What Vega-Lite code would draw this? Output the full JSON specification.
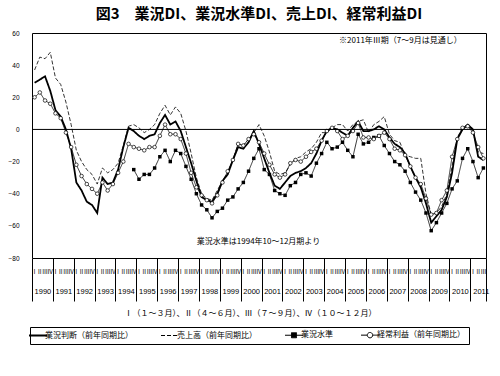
{
  "$schema": "https://vega.github.io/schema/vega-lite/v6.json",
  "width": 454,
  "height": 225,
  "autosize": {"type": "none"},
  "padding": {"left": 32, "top": 33, "right": 14, "bottom": 118},
  "background": "white",
  "title": {"text": "図3　業況DI、業況水準DI、売上DI、経常利益DI", "font": "Noto Sans CJK JP", "fontSize": 15, "fontWeight": "bold", "color": "black", "anchor": "middle", "frame": "group", "offset": 8},
  "config": {
    "view": {"stroke": "black", "strokeWidth": 1},
    "font": "Noto Sans CJK JP",
    "axisX": {
      "labelExpr": "datum.value > 86 ? '' : '' + (1990 + floor((datum.value + 0.5) / 4))",
      "labelOffset": 10.436, "labelPadding": -14, "labelFont": "Liberation Sans", "labelFontSize": 7.5, "labelColor": "black",
      "labelBound": false, "labelAngle": 0,
      "ticks": true, "tickSize": 43, "tickColor": "black", "tickWidth": 1, "domain": false, "grid": false,
      "titleFont": "Noto Sans CJK JP", "titleFontSize": 8, "titleFontWeight": "normal", "titleColor": "black", "titlePadding": 8, "titleX": 218},
    "axisY": {"tickCount": 7, "ticks": false, "domain": false, "grid": false, "labelFont": "Liberation Sans", "labelFontSize": 6.5, "labelColor": "black", "labelPadding": 13, "labelFlush": false, "labelOverlap": false}
  },
  "data": {"values": [
    {"t":0,"業況判断（前年同期比）":29,"売上高（前年同期比）":37,"経常利益（前年同期比）":20},
    {"t":1,"業況判断（前年同期比）":31,"売上高（前年同期比）":45,"経常利益（前年同期比）":23},
    {"t":2,"業況判断（前年同期比）":33,"売上高（前年同期比）":44,"経常利益（前年同期比）":18},
    {"t":3,"業況判断（前年同期比）":24,"売上高（前年同期比）":48,"経常利益（前年同期比）":16},
    {"t":4,"業況判断（前年同期比）":12,"売上高（前年同期比）":32,"経常利益（前年同期比）":10},
    {"t":5,"業況判断（前年同期比）":8,"売上高（前年同期比）":28,"経常利益（前年同期比）":7},
    {"t":6,"業況判断（前年同期比）":0,"売上高（前年同期比）":17,"経常利益（前年同期比）":-2},
    {"t":7,"業況判断（前年同期比）":-12,"売上高（前年同期比）":3,"経常利益（前年同期比）":-11},
    {"t":8,"業況判断（前年同期比）":-33,"売上高（前年同期比）":-13,"経常利益（前年同期比）":-22},
    {"t":9,"業況判断（前年同期比）":-38,"売上高（前年同期比）":-20,"経常利益（前年同期比）":-29},
    {"t":10,"業況判断（前年同期比）":-45,"売上高（前年同期比）":-25,"経常利益（前年同期比）":-34},
    {"t":11,"業況判断（前年同期比）":-47,"売上高（前年同期比）":-28,"経常利益（前年同期比）":-37},
    {"t":12,"業況判断（前年同期比）":-52,"売上高（前年同期比）":-34,"経常利益（前年同期比）":-40},
    {"t":13,"業況判断（前年同期比）":-30,"売上高（前年同期比）":-24,"経常利益（前年同期比）":-33},
    {"t":14,"業況判断（前年同期比）":-34,"売上高（前年同期比）":-27,"経常利益（前年同期比）":-38},
    {"t":15,"業況判断（前年同期比）":-33,"売上高（前年同期比）":-25,"経常利益（前年同期比）":-34},
    {"t":16,"業況判断（前年同期比）":-25,"売上高（前年同期比）":-21,"経常利益（前年同期比）":-27},
    {"t":17,"業況判断（前年同期比）":-11,"売上高（前年同期比）":-10,"経常利益（前年同期比）":-20},
    {"t":18,"業況判断（前年同期比）":1,"売上高（前年同期比）":2,"経常利益（前年同期比）":-9},
    {"t":19,"業況判断（前年同期比）":-1,"売上高（前年同期比）":3,"業況水準":-25,"経常利益（前年同期比）":-11},
    {"t":20,"業況判断（前年同期比）":-4,"売上高（前年同期比）":1,"業況水準":-31,"経常利益（前年同期比）":-12},
    {"t":21,"業況判断（前年同期比）":-6,"売上高（前年同期比）":-2,"業況水準":-28,"経常利益（前年同期比）":-13},
    {"t":22,"業況判断（前年同期比）":-4,"売上高（前年同期比）":0,"業況水準":-28,"経常利益（前年同期比）":-11},
    {"t":23,"業況判断（前年同期比）":-3,"売上高（前年同期比）":3,"業況水準":-24,"経常利益（前年同期比）":-11},
    {"t":24,"業況判断（前年同期比）":4,"売上高（前年同期比）":10,"業況水準":-17,"経常利益（前年同期比）":-4},
    {"t":25,"業況判断（前年同期比）":9,"売上高（前年同期比）":15,"業況水準":-13,"経常利益（前年同期比）":3},
    {"t":26,"業況判断（前年同期比）":3,"売上高（前年同期比）":9,"業況水準":-20,"経常利益（前年同期比）":-3},
    {"t":27,"業況判断（前年同期比）":5,"売上高（前年同期比）":14,"業況水準":-13,"経常利益（前年同期比）":-3},
    {"t":28,"業況判断（前年同期比）":-1,"売上高（前年同期比）":10,"業況水準":-15,"経常利益（前年同期比）":-6},
    {"t":29,"業況判断（前年同期比）":-11,"売上高（前年同期比）":-1,"業況水準":-23,"経常利益（前年同期比）":-15},
    {"t":30,"業況判断（前年同期比）":-21,"売上高（前年同期比）":-15,"業況水準":-31,"経常利益（前年同期比）":-27},
    {"t":31,"業況判断（前年同期比）":-32,"売上高（前年同期比）":-30,"業況水準":-40,"経常利益（前年同期比）":-36},
    {"t":32,"業況判断（前年同期比）":-42,"売上高（前年同期比）":-40,"業況水準":-47,"経常利益（前年同期比）":-41},
    {"t":33,"業況判断（前年同期比）":-44,"売上高（前年同期比）":-43,"業況水準":-50,"経常利益（前年同期比）":-44},
    {"t":34,"業況判断（前年同期比）":-45,"売上高（前年同期比）":-44,"業況水準":-55,"経常利益（前年同期比）":-46},
    {"t":35,"業況判断（前年同期比）":-40,"売上高（前年同期比）":-38,"業況水準":-51,"経常利益（前年同期比）":-41},
    {"t":36,"業況判断（前年同期比）":-32,"売上高（前年同期比）":-32,"業況水準":-49,"経常利益（前年同期比）":-33},
    {"t":37,"業況判断（前年同期比）":-28,"売上高（前年同期比）":-27,"業況水準":-44,"経常利益（前年同期比）":-26},
    {"t":38,"業況判断（前年同期比）":-19,"売上高（前年同期比）":-19,"業況水準":-42,"経常利益（前年同期比）":-19},
    {"t":39,"業況判断（前年同期比）":-11,"売上高（前年同期比）":-9,"業況水準":-37,"経常利益（前年同期比）":-9},
    {"t":40,"業況判断（前年同期比）":-12,"売上高（前年同期比）":-10,"業況水準":-33,"経常利益（前年同期比）":-10},
    {"t":41,"業況判断（前年同期比）":-8,"売上高（前年同期比）":-6,"業況水準":-26,"経常利益（前年同期比）":-6},
    {"t":42,"業況判断（前年同期比）":-1,"売上高（前年同期比）":-2,"業況水準":-18,"経常利益（前年同期比）":-3},
    {"t":43,"業況判断（前年同期比）":-9,"売上高（前年同期比）":3,"業況水準":-12,"経常利益（前年同期比）":-8},
    {"t":44,"業況判断（前年同期比）":-18,"売上高（前年同期比）":-4,"業況水準":-25,"経常利益（前年同期比）":-15},
    {"t":45,"業況判断（前年同期比）":-27,"売上高（前年同期比）":-14,"業況水準":-28,"経常利益（前年同期比）":-22},
    {"t":46,"業況判断（前年同期比）":-35,"売上高（前年同期比）":-26,"業況水準":-38,"経常利益（前年同期比）":-28},
    {"t":47,"業況判断（前年同期比）":-37,"売上高（前年同期比）":-28,"業況水準":-40,"経常利益（前年同期比）":-30},
    {"t":48,"業況判断（前年同期比）":-33,"売上高（前年同期比）":-27,"業況水準":-41,"経常利益（前年同期比）":-28},
    {"t":49,"業況判断（前年同期比）":-29,"売上高（前年同期比）":-22,"業況水準":-35,"経常利益（前年同期比）":-21},
    {"t":50,"業況判断（前年同期比）":-27,"売上高（前年同期比）":-18,"業況水準":-33,"経常利益（前年同期比）":-19},
    {"t":51,"業況判断（前年同期比）":-26,"売上高（前年同期比）":-17,"業況水準":-28,"経常利益（前年同期比）":-20},
    {"t":52,"業況判断（前年同期比）":-24,"売上高（前年同期比）":-14,"業況水準":-27,"経常利益（前年同期比）":-17},
    {"t":53,"業況判断（前年同期比）":-21,"売上高（前年同期比）":-12,"業況水準":-29,"経常利益（前年同期比）":-14},
    {"t":54,"業況判断（前年同期比）":-15,"売上高（前年同期比）":-8,"業況水準":-21,"経常利益（前年同期比）":-12},
    {"t":55,"業況判断（前年同期比）":-7,"売上高（前年同期比）":-2,"業況水準":-15,"経常利益（前年同期比）":-7},
    {"t":56,"業況判断（前年同期比）":-1,"売上高（前年同期比）":-2,"業況水準":-8,"経常利益（前年同期比）":-1},
    {"t":57,"業況判断（前年同期比）":1,"売上高（前年同期比）":1,"業況水準":-12,"経常利益（前年同期比）":1},
    {"t":58,"業況判断（前年同期比）":0,"売上高（前年同期比）":3,"業況水準":-11,"経常利益（前年同期比）":-1},
    {"t":59,"業況判断（前年同期比）":-2,"売上高（前年同期比）":3,"業況水準":-8,"経常利益（前年同期比）":-6},
    {"t":60,"業況判断（前年同期比）":-4,"売上高（前年同期比）":-1,"業況水準":-13,"経常利益（前年同期比）":-4},
    {"t":61,"業況判断（前年同期比）":1,"売上高（前年同期比）":3,"業況水準":-17,"経常利益（前年同期比）":-1},
    {"t":62,"業況判断（前年同期比）":5,"売上高（前年同期比）":5,"業況水準":-3,"経常利益（前年同期比）":4},
    {"t":63,"業況判断（前年同期比）":-1,"売上高（前年同期比）":6,"業況水準":-9,"経常利益（前年同期比）":-5},
    {"t":64,"業況判断（前年同期比）":-1,"売上高（前年同期比）":-2,"業況水準":-8,"経常利益（前年同期比）":-5},
    {"t":65,"業況判断（前年同期比）":0,"売上高（前年同期比）":3,"業況水準":-5,"経常利益（前年同期比）":-6},
    {"t":66,"業況判断（前年同期比）":2,"売上高（前年同期比）":5,"業況水準":-4,"経常利益（前年同期比）":-4},
    {"t":67,"業況判断（前年同期比）":0,"売上高（前年同期比）":8,"業況水準":-10,"経常利益（前年同期比）":-2},
    {"t":68,"業況判断（前年同期比）":-5,"売上高（前年同期比）":-3,"業況水準":-15,"経常利益（前年同期比）":-6},
    {"t":69,"業況判断（前年同期比）":-9,"売上高（前年同期比）":-7,"業況水準":-20,"経常利益（前年同期比）":-12},
    {"t":70,"業況判断（前年同期比）":-11,"売上高（前年同期比）":-8,"業況水準":-22,"経常利益（前年同期比）":-13},
    {"t":71,"業況判断（前年同期比）":-15,"売上高（前年同期比）":-16,"業況水準":-26,"経常利益（前年同期比）":-16},
    {"t":72,"業況判断（前年同期比）":-23,"売上高（前年同期比）":-17,"業況水準":-33,"経常利益（前年同期比）":-23},
    {"t":73,"業況判断（前年同期比）":-30,"売上高（前年同期比）":-18,"業況水準":-39,"経常利益（前年同期比）":-30},
    {"t":74,"業況判断（前年同期比）":-36,"売上高（前年同期比）":-18,"業況水準":-44,"経常利益（前年同期比）":-34},
    {"t":75,"業況判断（前年同期比）":-46,"売上高（前年同期比）":-40,"業況水準":-52,"経常利益（前年同期比）":-43},
    {"t":76,"業況判断（前年同期比）":-58,"売上高（前年同期比）":-53,"業況水準":-63,"経常利益（前年同期比）":-53},
    {"t":77,"業況判断（前年同期比）":-54,"売上高（前年同期比）":-52,"業況水準":-58,"経常利益（前年同期比）":-52},
    {"t":78,"業況判断（前年同期比）":-50,"売上高（前年同期比）":-48,"業況水準":-52,"経常利益（前年同期比）":-44},
    {"t":79,"業況判断（前年同期比）":-42,"売上高（前年同期比）":-40,"業況水準":-46,"経常利益（前年同期比）":-38},
    {"t":80,"業況判断（前年同期比）":-27,"売上高（前年同期比）":-23,"業況水準":-37,"経常利益（前年同期比）":-17},
    {"t":81,"業況判断（前年同期比）":-6,"売上高（前年同期比）":-5,"業況水準":-32,"経常利益（前年同期比）":-6},
    {"t":82,"業況判断（前年同期比）":0,"売上高（前年同期比）":1,"業況水準":-18,"経常利益（前年同期比）":1},
    {"t":83,"業況判断（前年同期比）":3,"売上高（前年同期比）":3,"業況水準":-12,"経常利益（前年同期比）":2},
    {"t":84,"業況判断（前年同期比）":0,"売上高（前年同期比）":-2,"業況水準":-20,"経常利益（前年同期比）":-2},
    {"t":85,"業況判断（前年同期比）":-17,"売上高（前年同期比）":-14,"業況水準":-30,"経常利益（前年同期比）":-11},
    {"t":86,"業況判断（前年同期比）":-19,"売上高（前年同期比）":-15,"業況水準":-24,"経常利益（前年同期比）":-18}
  ]},
  "layer": [
    {
      "transform": [{"fold": ["業況判断（前年同期比）", "売上高（前年同期比）", "業況水準", "経常利益（前年同期比）"], "as": ["series", "v"]}],
      "mark": {"type": "line", "color": "black", "strokeJoin": "miter"},
      "encoding": {
        "x": {"field": "t", "type": "quantitative", "scale": {"domain": [-0.5, 86.5], "nice": false, "zero": false}, "title": "Ⅰ（１～３月）、Ⅱ（４～６月）、Ⅲ（７～９月）、Ⅳ（１０～１２月）",
          "axis": {"values": [-0.5, 3.5, 7.5, 11.5, 15.5, 19.5, 23.5, 27.5, 31.5, 35.5, 39.5, 43.5, 47.5, 51.5, 55.5, 59.5, 63.5, 67.5, 71.5, 75.5, 79.5, 83.5, 86.5], "tickCount": 100, "labelOverlap": false, "labelFlush": false}},
        "y": {"field": "v", "type": "quantitative", "scale": {"domain": [-80, 60], "nice": false, "zero": false}, "title": null},
        "strokeDash": {"field": "series", "type": "nominal",
          "scale": {"domain": ["業況判断（前年同期比）", "売上高（前年同期比）", "業況水準", "経常利益（前年同期比）"], "range": [[1, 0], [4, 2], [1, 0], [1, 0]]},
          "legend": {"orient": "none", "legendX": -2, "legendY": 294, "direction": "horizontal", "columns": 4, "title": null,
            "symbolType": "stroke", "symbolSize": 324, "symbolStrokeColor": "black", "symbolStrokeWidth": 1,
            "labelFont": "Noto Sans CJK JP", "labelFontSize": 8, "labelColor": "black", "labelOffset": 3, "labelLimit": 200,
            "columnPadding": 26, "padding": 4, "strokeColor": "black",
            "encode": {
              "legend": {"update": {"stroke": {"value": "black"}, "strokeWidth": {"value": 1}}},
              "symbols": {"update": {
              "shape": {"signal": "datum.value === '業況水準' ? 'M-1,0H1M-0.28,-0.28H0.28V0.28H-0.28Z' : datum.value === '経常利益（前年同期比）' ? 'M-1,0H-0.3M0.3,0H1M0.3,0A0.3,0.3,0,1,1,-0.3,0A0.3,0.3,0,1,1,0.3,0Z' : 'stroke'"},
              "stroke": {"value": "black"},
              "opacity": {"value": 1},
              "fill": {"signal": "datum.value === '業況水準' ? 'black' : datum.value === '経常利益（前年同期比）' ? 'white' : 'transparent'"},
              "strokeWidth": {"signal": "datum.value === '業況判断（前年同期比）' ? 1.8 : 1"}
            }}}}},
        "strokeWidth": {"condition": {"test": "datum.series === '業況判断（前年同期比）'", "value": 1.8}, "value": 0.8}
      }
    },
    {
      "transform": [{"fold": ["業況水準"], "as": ["series", "v"]}],
      "mark": {"type": "square", "color": "black", "size": 12, "filled": true, "opacity": 1},
      "encoding": {
        "x": {"field": "t", "type": "quantitative", "scale": {"domain": [-0.5, 86.5], "nice": false, "zero": false}, "title": "Ⅰ（１～３月）、Ⅱ（４～６月）、Ⅲ（７～９月）、Ⅳ（１０～１２月）",
          "axis": {"values": [-0.5, 3.5, 7.5, 11.5, 15.5, 19.5, 23.5, 27.5, 31.5, 35.5, 39.5, 43.5, 47.5, 51.5, 55.5, 59.5, 63.5, 67.5, 71.5, 75.5, 79.5, 83.5, 86.5], "tickCount": 100, "labelOverlap": false, "labelFlush": false}},
        "y": {"field": "v", "type": "quantitative", "scale": {"domain": [-80, 60], "nice": false, "zero": false}, "title": null}
      }
    },
    {
      "transform": [{"fold": ["経常利益（前年同期比）"], "as": ["series", "v"]}],
      "mark": {"type": "point", "shape": "circle", "size": 13, "filled": true, "fill": "white", "stroke": "black", "strokeWidth": 0.7, "opacity": 1},
      "encoding": {
        "x": {"field": "t", "type": "quantitative", "scale": {"domain": [-0.5, 86.5], "nice": false, "zero": false}, "title": "Ⅰ（１～３月）、Ⅱ（４～６月）、Ⅲ（７～９月）、Ⅳ（１０～１２月）",
          "axis": {"values": [-0.5, 3.5, 7.5, 11.5, 15.5, 19.5, 23.5, 27.5, 31.5, 35.5, 39.5, 43.5, 47.5, 51.5, 55.5, 59.5, 63.5, 67.5, 71.5, 75.5, 79.5, 83.5, 86.5], "tickCount": 100, "labelOverlap": false, "labelFlush": false}},
        "y": {"field": "v", "type": "quantitative", "scale": {"domain": [-80, 60], "nice": false, "zero": false}, "title": null}
      }
    },
    {
      "data": {"values": [{"ref": 0}]},
      "mark": {"type": "rule", "color": "black", "strokeWidth": 1},
      "encoding": {"y": {"field": "ref", "type": "quantitative", "scale": {"domain": [-80, 60], "nice": false, "zero": false}, "title": null}}
    },
    {
      "data": {"values": [
        {"t":0,"q":"Ⅰ"},{"t":1,"q":"Ⅱ"},{"t":2,"q":"Ⅲ"},{"t":3,"q":"Ⅳ"},
        {"t":4,"q":"Ⅰ"},{"t":5,"q":"Ⅱ"},{"t":6,"q":"Ⅲ"},{"t":7,"q":"Ⅳ"},
        {"t":8,"q":"Ⅰ"},{"t":9,"q":"Ⅱ"},{"t":10,"q":"Ⅲ"},{"t":11,"q":"Ⅳ"},
        {"t":12,"q":"Ⅰ"},{"t":13,"q":"Ⅱ"},{"t":14,"q":"Ⅲ"},{"t":15,"q":"Ⅳ"},
        {"t":16,"q":"Ⅰ"},{"t":17,"q":"Ⅱ"},{"t":18,"q":"Ⅲ"},{"t":19,"q":"Ⅳ"},
        {"t":20,"q":"Ⅰ"},{"t":21,"q":"Ⅱ"},{"t":22,"q":"Ⅲ"},{"t":23,"q":"Ⅳ"},
        {"t":24,"q":"Ⅰ"},{"t":25,"q":"Ⅱ"},{"t":26,"q":"Ⅲ"},{"t":27,"q":"Ⅳ"},
        {"t":28,"q":"Ⅰ"},{"t":29,"q":"Ⅱ"},{"t":30,"q":"Ⅲ"},{"t":31,"q":"Ⅳ"},
        {"t":32,"q":"Ⅰ"},{"t":33,"q":"Ⅱ"},{"t":34,"q":"Ⅲ"},{"t":35,"q":"Ⅳ"},
        {"t":36,"q":"Ⅰ"},{"t":37,"q":"Ⅱ"},{"t":38,"q":"Ⅲ"},{"t":39,"q":"Ⅳ"},
        {"t":40,"q":"Ⅰ"},{"t":41,"q":"Ⅱ"},{"t":42,"q":"Ⅲ"},{"t":43,"q":"Ⅳ"},
        {"t":44,"q":"Ⅰ"},{"t":45,"q":"Ⅱ"},{"t":46,"q":"Ⅲ"},{"t":47,"q":"Ⅳ"},
        {"t":48,"q":"Ⅰ"},{"t":49,"q":"Ⅱ"},{"t":50,"q":"Ⅲ"},{"t":51,"q":"Ⅳ"},
        {"t":52,"q":"Ⅰ"},{"t":53,"q":"Ⅱ"},{"t":54,"q":"Ⅲ"},{"t":55,"q":"Ⅳ"},
        {"t":56,"q":"Ⅰ"},{"t":57,"q":"Ⅱ"},{"t":58,"q":"Ⅲ"},{"t":59,"q":"Ⅳ"},
        {"t":60,"q":"Ⅰ"},{"t":61,"q":"Ⅱ"},{"t":62,"q":"Ⅲ"},{"t":63,"q":"Ⅳ"},
        {"t":64,"q":"Ⅰ"},{"t":65,"q":"Ⅱ"},{"t":66,"q":"Ⅲ"},{"t":67,"q":"Ⅳ"},
        {"t":68,"q":"Ⅰ"},{"t":69,"q":"Ⅱ"},{"t":70,"q":"Ⅲ"},{"t":71,"q":"Ⅳ"},
        {"t":72,"q":"Ⅰ"},{"t":73,"q":"Ⅱ"},{"t":74,"q":"Ⅲ"},{"t":75,"q":"Ⅳ"},
        {"t":76,"q":"Ⅰ"},{"t":77,"q":"Ⅱ"},{"t":78,"q":"Ⅲ"},{"t":79,"q":"Ⅳ"},
        {"t":80,"q":"Ⅰ"},{"t":81,"q":"Ⅱ"},{"t":82,"q":"Ⅲ"},{"t":83,"q":"Ⅳ"},
        {"t":84,"q":"Ⅰ"},{"t":85,"q":"Ⅱ"},{"t":86,"q":"Ⅲ"}
      ]},
      "mark": {"type": "text", "font": "Noto Sans CJK JP", "fontSize": 6, "color": "black", "align": "center", "baseline": "middle", "clip": false},
      "encoding": {
        "x": {"field": "t", "type": "quantitative", "scale": {"domain": [-0.5, 86.5], "nice": false, "zero": false}, "title": "Ⅰ（１～３月）、Ⅱ（４～６月）、Ⅲ（７～９月）、Ⅳ（１０～１２月）",
          "axis": {"values": [-0.5, 3.5, 7.5, 11.5, 15.5, 19.5, 23.5, 27.5, 31.5, 35.5, 39.5, 43.5, 47.5, 51.5, 55.5, 59.5, 63.5, 67.5, 71.5, 75.5, 79.5, 83.5, 86.5], "tickCount": 100, "labelOverlap": false, "labelFlush": false}},
        "y": {"datum": -88.7, "type": "quantitative", "scale": {"domain": [-80, 60], "nice": false, "zero": false}, "title": null},
        "text": {"field": "q"}
      }
    },
    {
      "data": {"values": [{"note": "※2011年Ⅲ期（7～9月は見通し）"}]},
      "mark": {"type": "text", "font": "Noto Sans CJK JP", "fontSize": 8, "color": "black", "align": "center", "baseline": "middle"},
      "encoding": {
        "x": {"datum": 70.1, "type": "quantitative", "scale": {"domain": [-0.5, 86.5], "nice": false, "zero": false}, "title": "Ⅰ（１～３月）、Ⅱ（４～６月）、Ⅲ（７～９月）、Ⅳ（１０～１２月）",
          "axis": {"values": [-0.5, 3.5, 7.5, 11.5, 15.5, 19.5, 23.5, 27.5, 31.5, 35.5, 39.5, 43.5, 47.5, 51.5, 55.5, 59.5, 63.5, 67.5, 71.5, 75.5, 79.5, 83.5, 86.5], "tickCount": 100, "labelOverlap": false, "labelFlush": false}},
        "y": {"datum": 55.2, "type": "quantitative", "scale": {"domain": [-80, 60], "nice": false, "zero": false}, "title": null},
        "text": {"field": "note"}
      }
    },
    {
      "data": {"values": [{"note": "業況水準は1994年10～12月期より"}]},
      "mark": {"type": "text", "font": "Noto Sans CJK JP", "fontSize": 8, "color": "black", "align": "center", "baseline": "middle"},
      "encoding": {
        "x": {"datum": 42.9, "type": "quantitative", "scale": {"domain": [-0.5, 86.5], "nice": false, "zero": false}, "title": "Ⅰ（１～３月）、Ⅱ（４～６月）、Ⅲ（７～９月）、Ⅳ（１０～１２月）",
          "axis": {"values": [-0.5, 3.5, 7.5, 11.5, 15.5, 19.5, 23.5, 27.5, 31.5, 35.5, 39.5, 43.5, 47.5, 51.5, 55.5, 59.5, 63.5, 67.5, 71.5, 75.5, 79.5, 83.5, 86.5], "tickCount": 100, "labelOverlap": false, "labelFlush": false}},
        "y": {"datum": -69.8, "type": "quantitative", "scale": {"domain": [-80, 60], "nice": false, "zero": false}, "title": null},
        "text": {"field": "note"}
      }
    }
  ]
}
